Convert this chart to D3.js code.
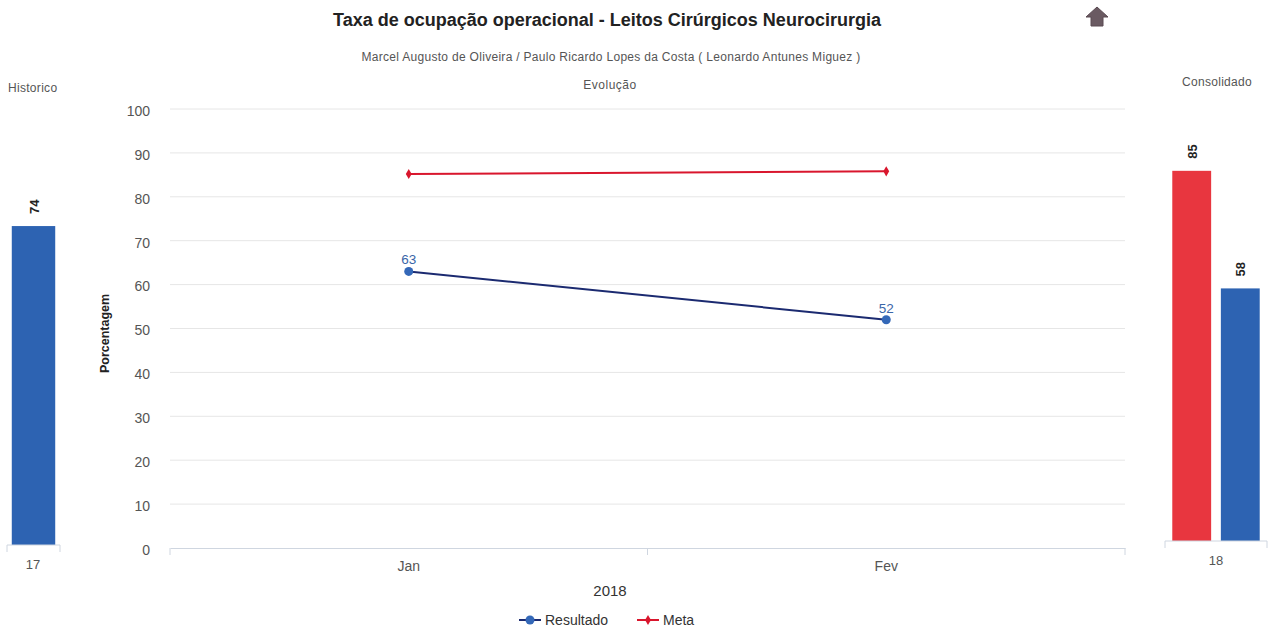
<!DOCTYPE html>
<html>
<head>
<meta charset="utf-8">
<script src="https://cdnjs.cloudflare.com/ajax/libs/d3/7.8.5/d3.min.js"></script>
<style>
  html, body { margin: 0; padding: 0; background: #fff; }
  svg { display: block; font-family: "Liberation Sans", Arial, sans-serif; }
</style>
</head>
<body>
<svg id="chart" width="1270" height="628"></svg>
<script>
// Monthly evolution
const months = ["Jan", "Fev"];
const resultado = [63, 52];
const meta = [85.2, 85.8];
const yTicks = [0, 10, 20, 30, 40, 50, 60, 70, 80, 90, 100];

// Historical panel
const histCategories = ["17"];
const histValues = [74];

// Consolidated panel
const consCategories = ["18"];
const consMeta = [85];
const consResultado = [58];

const colors = {
  resultLine: "#1b2a70",
  resultDot: "#3468b8",
  metaLine: "#d9162d",
  barBlue: "#2d63b2",
  barRed: "#e8363f",
  grid: "#e6e6e6",
  axis: "#cfd6e0",
  text: "#444"
};

const svg = d3.select("#chart");

// Titles
svg.append("text").attr("x", 607).attr("y", 26).attr("text-anchor", "middle")
  .attr("font-size", 18).attr("font-weight", "bold").attr("fill", "#222")
  .text("Taxa de ocupação operacional - Leitos Cirúrgicos Neurocirurgia");
svg.append("text").attr("x", 611).attr("y", 61).attr("text-anchor", "middle")
  .attr("font-size", 12).attr("letter-spacing", 0.3).attr("fill", "#555")
  .text("Marcel Augusto de Oliveira / Paulo Ricardo Lopes da Costa ( Leonardo Antunes Miguez )");
svg.append("text").attr("x", 610).attr("y", 89).attr("text-anchor", "middle")
  .attr("font-size", 12).attr("letter-spacing", 0.5).attr("fill", "#555").text("Evolução");
svg.append("text").attr("x", 8).attr("y", 92)
  .attr("font-size", 12).attr("letter-spacing", 0.3).attr("fill", "#555").text("Historico");
svg.append("text").attr("x", 1217).attr("y", 86).attr("text-anchor", "middle")
  .attr("font-size", 12).attr("letter-spacing", 0.3).attr("fill", "#555").text("Consolidado");

// Up-arrow icon
svg.append("path")
  .attr("d", "M1097,7 L1108,17 L1103,17 L1103,26 L1091,26 L1091,17 L1086,17 Z")
  .attr("fill", "#6a5a62").attr("stroke", "#5a4a52").attr("stroke-width", 1)
  .attr("stroke-linejoin", "round");

// ---- Main line chart ----
const plot = { left: 170, right: 1125, top: 109, bottom: 548 };
const x = d3.scaleBand().domain(months).range([plot.left, plot.right]);
const y = d3.scaleLinear().domain([0, 100]).range([plot.bottom, plot.top]);
const cx = m => x(m) + x.bandwidth() / 2;

// Gridlines
svg.append("g").selectAll("line").data(yTicks.filter(t => t > 0)).join("line")
  .attr("x1", plot.left).attr("x2", plot.right)
  .attr("y1", d => y(d)).attr("y2", d => y(d))
  .attr("stroke", colors.grid).attr("stroke-width", 1);

// Y axis labels
const yAxis = d3.axisLeft(y).tickValues(yTicks).tickSize(0).tickPadding(20);
const gy = svg.append("g").attr("transform", `translate(${plot.left},0)`).call(yAxis);
gy.select(".domain").remove();
gy.selectAll("text").attr("font-size", 14).attr("fill", "#555")
  .attr("font-family", "Liberation Sans, Arial, sans-serif").attr("dy", "0.45em");

svg.append("text")
  .attr("transform", `translate(109,${(plot.top + plot.bottom) / 2 + 5}) rotate(-90)`)
  .attr("text-anchor", "middle").attr("font-size", 12.5).attr("font-weight", "bold")
  .attr("fill", "#222").text("Porcentagem");

// X axis
const xAxis = d3.axisBottom(x).tickSize(0).tickPadding(13);
const gx = svg.append("g").attr("transform", `translate(0,${plot.bottom})`).call(xAxis);
gx.select(".domain").attr("stroke", colors.axis);
gx.selectAll("text").attr("font-size", 14).attr("fill", "#555")
  .attr("font-family", "Liberation Sans, Arial, sans-serif");
// band boundary ticks
const bounds = [plot.left, x("Fev"), plot.right];
svg.append("g").selectAll("line").data(bounds).join("line")
  .attr("x1", d => d).attr("x2", d => d)
  .attr("y1", plot.bottom).attr("y2", plot.bottom + 7)
  .attr("stroke", colors.axis);

svg.append("text").attr("x", 610).attr("y", 596).attr("text-anchor", "middle")
  .attr("font-size", 15).attr("fill", "#333").text("2018");

// Meta line
const line = d3.line().x((d, i) => cx(months[i])).y(d => y(d));
svg.append("path").datum(meta).attr("d", line)
  .attr("fill", "none").attr("stroke", colors.metaLine).attr("stroke-width", 2);
svg.append("g").selectAll("path").data(meta).join("path")
  .attr("d", d3.symbol(d3.symbolDiamond, 30))
  .attr("transform", (d, i) => `translate(${cx(months[i])},${y(d)})`)
  .attr("fill", colors.metaLine);

// Resultado line
svg.append("path").datum(resultado).attr("d", line)
  .attr("fill", "none").attr("stroke", colors.resultLine).attr("stroke-width", 2);
svg.append("g").selectAll("circle").data(resultado).join("circle")
  .attr("cx", (d, i) => cx(months[i])).attr("cy", d => y(d)).attr("r", 4.5)
  .attr("fill", colors.resultDot);
svg.append("g").selectAll("text").data(resultado).join("text")
  .attr("x", (d, i) => cx(months[i])).attr("y", d => y(d) - 7)
  .attr("text-anchor", "middle").attr("font-size", 13.5).attr("fill", "#3a66a8")
  .text(d => Math.round(d));

// Legend
const legend = svg.append("g");
legend.append("line").attr("x1", 519).attr("x2", 541).attr("y1", 620).attr("y2", 620)
  .attr("stroke", colors.resultLine).attr("stroke-width", 2);
legend.append("circle").attr("cx", 530).attr("cy", 620).attr("r", 4.5).attr("fill", colors.resultDot);
legend.append("text").attr("x", 545).attr("y", 625).attr("font-size", 14).attr("fill", "#333").text("Resultado");
legend.append("line").attr("x1", 637).attr("x2", 659).attr("y1", 620).attr("y2", 620)
  .attr("stroke", colors.metaLine).attr("stroke-width", 2);
legend.append("path").attr("d", d3.symbol(d3.symbolDiamond, 30))
  .attr("transform", "translate(648,620)").attr("fill", colors.metaLine);
legend.append("text").attr("x", 663).attr("y", 625).attr("font-size", 14).attr("fill", "#333").text("Meta");

// ---- Side bar panels ----
function barLabel(xPos, yPos, v) {
  svg.append("text")
    .attr("transform", `translate(${xPos + 5},${yPos - 12}) rotate(-90)`)
    .attr("font-size", 13).attr("font-weight", "bold").attr("fill", "#222")
    .text(v);
}
function panelAxis(x0, x1, yBase, label, labelX) {
  svg.append("line").attr("x1", x0).attr("x2", x1).attr("y1", yBase).attr("y2", yBase)
    .attr("stroke", colors.axis);
  [x0, x1].forEach(xx => svg.append("line").attr("x1", xx).attr("x2", xx)
    .attr("y1", yBase).attr("y2", yBase + 7).attr("stroke", colors.axis));
  svg.append("text").attr("x", labelX).attr("y", yBase + 24).attr("text-anchor", "middle")
    .attr("font-size", 13).attr("fill", "#555").text(label);
}

// Historico
const hx = d3.scaleBand().domain(histCategories).range([7, 60]).paddingInner(0).paddingOuter(0.11);
const hy = d3.scaleLinear().domain([0, 100]).range([545, 114]);
svg.append("g").selectAll("rect").data(histValues).join("rect")
  .attr("x", (d, i) => hx(histCategories[i])).attr("width", hx.bandwidth())
  .attr("y", d => hy(d)).attr("height", d => hy(0) - hy(d))
  .attr("fill", colors.barBlue);
histValues.forEach((v, i) => barLabel(hx(histCategories[i]) + hx.bandwidth() / 2, hy(v), v));
panelAxis(7, 60, 545, histCategories[0], 33);

// Consolidado
const gxC = d3.scaleBand().domain(consCategories).range([1165, 1267]);
const sub = d3.scaleBand().domain(["meta", "resultado"]).range([0, gxC.bandwidth()])
  .paddingInner(0.2).paddingOuter(0.15);
const cy = d3.scaleLinear().domain([0, 100]).range([541, 105.5]);
const consData = consCategories.map((c, i) => [
  { cat: c, key: "meta", v: consMeta[i], fill: colors.barRed },
  { cat: c, key: "resultado", v: consResultado[i], fill: colors.barBlue }
]).flat();
svg.append("g").selectAll("rect").data(consData).join("rect")
  .attr("x", d => gxC(d.cat) + sub(d.key)).attr("width", sub.bandwidth())
  .attr("y", d => cy(d.v)).attr("height", d => cy(0) - cy(d.v))
  .attr("fill", d => d.fill);
consData.forEach(d => barLabel(gxC(d.cat) + sub(d.key) + sub.bandwidth() / 2, cy(d.v), d.v));
panelAxis(1165, 1267, 541, consCategories[0], 1216);
</script>
</body>
</html>
